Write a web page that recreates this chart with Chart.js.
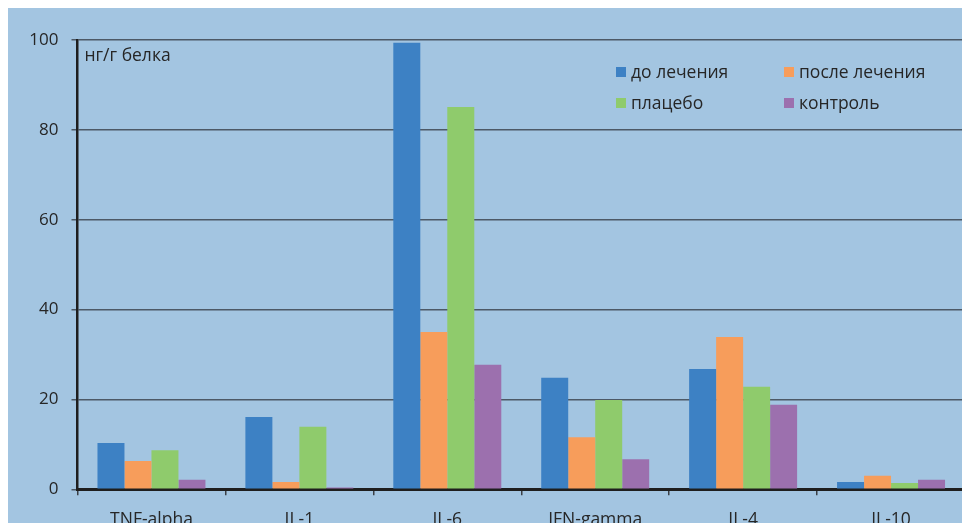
<!DOCTYPE html>
<html lang="ru">
<head>
<meta charset="utf-8">
<title>Цитокины, нг/г белка</title>
<script src="https://cdn.jsdelivr.net/npm/chart.js@4.4.1/dist/chart.umd.min.js"></script>
<style>
  html, body { margin: 0; padding: 0; background: #ffffff; overflow: hidden; }
  #wrap { position: absolute; left: 8px; top: 8px; width: 970px; height: 515px; background: #a3c5e1; }
  canvas { display: block; }
</style>
</head>
<body>
<div id="wrap"><canvas id="chart" width="970" height="515"></canvas></div>
<script>
// Cytokine levels by group
const categories = ['TNF-alpha', 'IL-1', 'IL-6', 'IFN-gamma', 'IL-4', 'IL-10'];
const seriesNames = ['до лечения', 'после лечения', 'плацебо', 'контроль'];
const beforeTreatment = [10.3, 16.1, 99.4, 24.8, 26.8, 1.6];
const afterTreatment  = [6.3, 1.6, 35.0, 11.6, 33.9, 3.0];
const placebo         = [8.7, 13.9, 85.1, 19.9, 22.8, 1.4];
const control         = [2.1, 0.4, 27.7, 6.7, 18.8, 2.1];
const yTicks = [0, 20, 40, 60, 80, 100];
const unitLabel = 'нг/г белка';

const colors = ['#3d81c4', '#f79d5b', '#8fcb6c', '#9c70ae'];
const TEXT = '#262626';
const FONT = "'Open Sans', 'Noto Sans', sans-serif";

Chart.defaults.font.family = FONT;
Chart.defaults.font.size = 17;
Chart.defaults.color = TEXT;

const seriesValues = [beforeTreatment, afterTreatment, placebo, control];

// Unit caption and a two-column legend drawn inside the plot area
const overlay = {
  id: 'overlay',
  afterDraw(chart) {
    const ctx = chart.ctx;
    const area = chart.chartArea;
    ctx.save();
    ctx.fillStyle = TEXT;
    ctx.font = '17.5px ' + FONT;
    ctx.textBaseline = 'alphabetic';
    ctx.textAlign = 'left';
    ctx.fillText(unitLabel, area.left + 7, area.top + 21);

    const cols = [608, 776];
    const rows = [59, 90];
    chart.data.datasets.forEach((ds, i) => {
      const x = cols[i % 2];
      const y = rows[Math.floor(i / 2)];
      ctx.fillStyle = ds.backgroundColor;
      ctx.fillRect(x, y, 10, 10);
      ctx.fillStyle = TEXT;
      ctx.fillText(ds.label, x + 15, y + 11);
    });
    ctx.restore();
  }
};

new Chart(document.getElementById('chart'), {
  type: 'bar',
  data: {
    labels: categories,
    datasets: seriesNames.map((name, i) => ({
      label: name,
      data: seriesValues[i],
      backgroundColor: colors[i],
      borderWidth: 0,
      categoryPercentage: 0.73,
      barPercentage: 1.0
    }))
  },
  options: {
    responsive: false,
    animation: false,
    devicePixelRatio: 1,
    layout: { padding: { left: 0, top: 32, right: 13, bottom: 0 } },
    plugins: {
      legend: { display: false },
      tooltip: { enabled: false }
    },
    scales: {
      x: {
        grid: {
          offset: true,
          drawOnChartArea: false,
          drawTicks: true,
          tickLength: 6,
          color: '#3a3f45',
          lineWidth: 1.5
        },
        border: { display: true, color: '#1e1e1e', width: 3 },
        ticks: { padding: 14, color: TEXT, font: { size: 17.5 }, maxRotation: 0 },
        afterFit(scale) { scale.height = 33.7; }
      },
      y: {
        min: 0,
        max: 100,
        afterBuildTicks(scale) { scale.ticks = yTicks.map(v => ({ value: v })); },
        grid: {
          color: '#4d5966',
          lineWidth: 1.5,
          drawTicks: true,
          tickLength: 6
        },
        border: { display: true, color: '#1e1e1e', width: 2.5 },
        ticks: { padding: 13, color: TEXT, font: { size: 17 } },
        afterFit(scale) { scale.width = 69.5; }
      }
    }
  },
  plugins: [overlay]
});
</script>
</body>
</html>
